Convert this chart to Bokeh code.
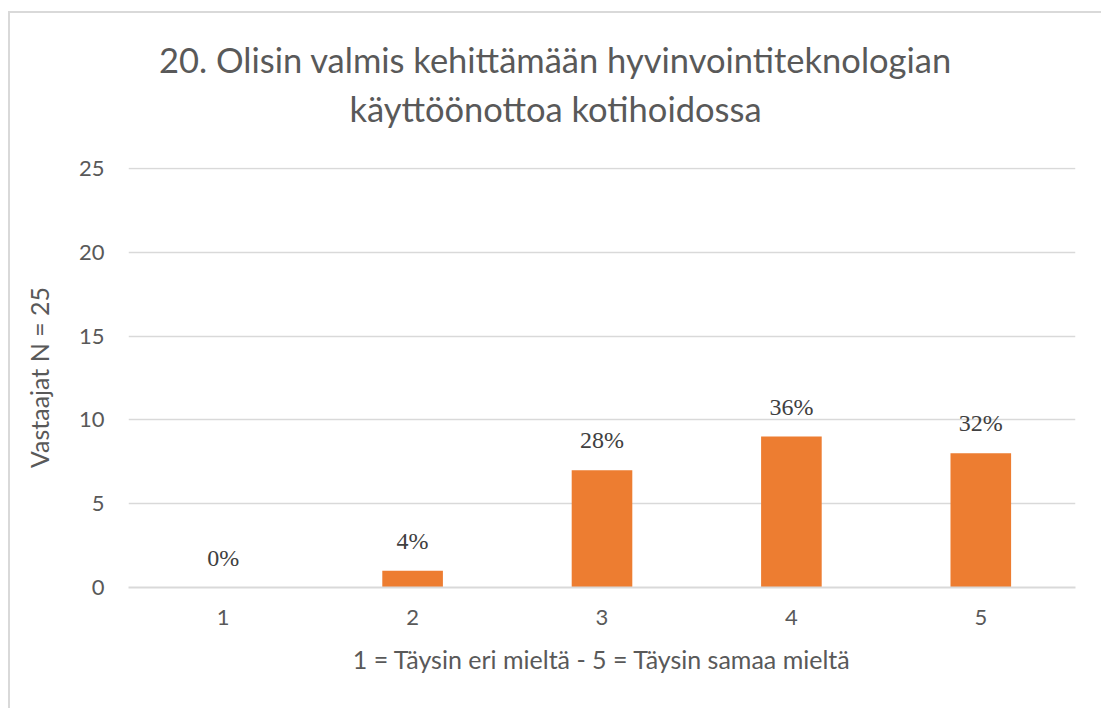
from bokeh.plotting import figure
from bokeh.layouts import column
from bokeh.models import ColumnDataSource, Label, LabelSet, FactorRange, Range1d
from bokeh.embed import file_html
from bokeh.resources import INLINE

categories = ["1", "2", "3", "4", "5"]
counts = [0, 1, 7, 9, 8]
pct_labels = ["0%", "4%", "28%", "36%", "32%"]
y_ticks = [0, 5, 10, 15, 20, 25]

title_line1 = "20. Olisin valmis kehittämään hyvinvointiteknologian"
title_line2 = "käyttöönottoa kotihoidossa"
x_label = "1 = Täysin eri mieltä - 5 = Täysin samaa mieltä"
y_label = "Vastaajat N = 25"

FONT = "Lato"
GRAY = "#595959"

W = 1091
BL, BR = 118, 26          # left/right borders of the chart frame (px)

# ---- title strip: a pixel-space figure, no axes; frame is aligned with main frame ----
TH = 140
tfig = figure(width=W, height=TH, x_range=Range1d(BL, W - BR), y_range=Range1d(TH, 0),
              output_backend="svg", toolbar_location=None,
              min_border_left=BL, min_border_right=BR, min_border_top=0, min_border_bottom=0,
              x_axis_type=None, y_axis_type=None)
tfig.grid.visible = False
tfig.outline_line_color = None
for txt, ty in ((title_line1, 46), (title_line2, 95)):
    tfig.add_layout(Label(x=545, y=ty, text=txt, text_align="center",
                          text_baseline="middle", text_font=FONT,
                          text_font_size="34.5px", text_color=GRAY))

# ---- main chart ----
src = ColumnDataSource(dict(x=categories, y=counts, lab=pct_labels))

p = figure(width=W, height=555, x_range=FactorRange(*categories),
           y_range=Range1d(0, 25.05), output_backend="svg", toolbar_location=None,
           min_border_left=BL, min_border_right=BR, min_border_top=14,
           min_border_bottom=121, title=None)

p.vbar(x="x", top="y", width=0.32, source=src, color="#ED7D31", line_color=None)

labels = LabelSet(x="x", y="y", text="lab", source=src, y_offset=17,
                  text_align="center", text_baseline="bottom",
                  text_font=FONT, text_font_size="24px", text_color="#404040")
p.add_layout(labels)

p.yaxis.ticker = y_ticks
p.yaxis.axis_line_color = None
p.yaxis.major_tick_line_color = None
p.yaxis.minor_tick_line_color = None
p.yaxis.major_label_text_font = FONT
p.yaxis.major_label_text_font_size = "22px"
p.yaxis.major_label_text_color = GRAY
p.yaxis.major_label_standoff = 18
p.yaxis.axis_label = y_label
p.yaxis.axis_label_text_font = FONT
p.yaxis.axis_label_text_font_size = "25px"
p.yaxis.axis_label_text_color = GRAY
p.yaxis.axis_label_text_font_style = "normal"
p.yaxis.axis_label_standoff = 22

p.xaxis.axis_line_color = "#d9d9d9"
p.xaxis.axis_line_width = 2
p.xaxis.major_tick_line_color = None
p.xaxis.minor_tick_line_color = None
p.xaxis.major_label_text_font = FONT
p.xaxis.major_label_text_font_size = "22px"
p.xaxis.major_label_text_color = GRAY
p.xaxis.major_label_standoff = 16
p.xaxis.axis_label = x_label
p.xaxis.axis_label_text_font = FONT
p.xaxis.axis_label_text_font_size = "25px"
p.xaxis.axis_label_text_color = GRAY
p.xaxis.axis_label_text_font_style = "normal"
p.xaxis.axis_label_standoff = 16

p.xgrid.grid_line_color = None
p.ygrid.grid_line_color = "#d9d9d9"
p.ygrid.grid_line_width = 1.5
p.outline_line_color = None

layout = column(tfig, p, spacing=0,
                styles={"border-left": "2px solid #d9d9d9",
                        "border-top": "2px solid #d9d9d9",
                        "margin-top": "11px", "margin-left": "8px"})

open("out.html", "w").write(file_html(layout, INLINE))
